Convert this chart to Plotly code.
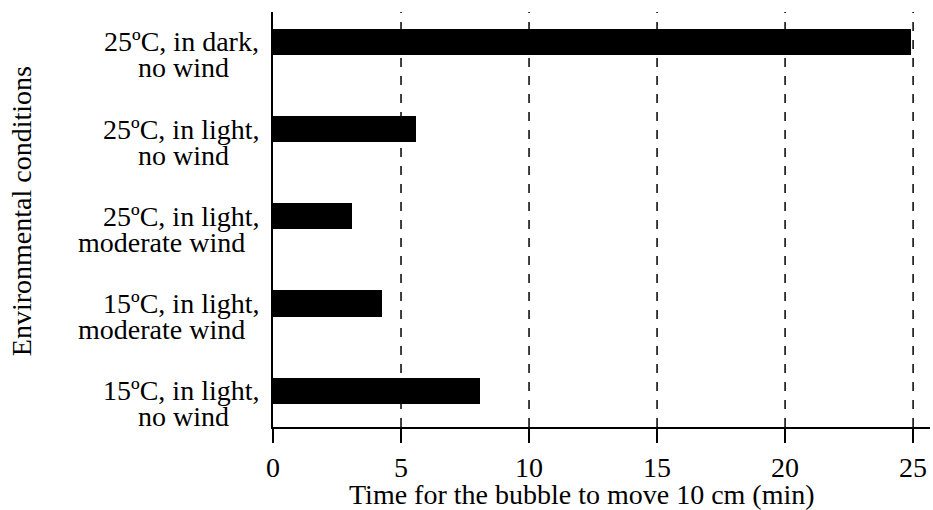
import plotly.graph_objects as go

line1 = [
    "15ºC, in light,",
    "15ºC, in light,",
    "25ºC, in light,",
    "25ºC, in light,",
    "25ºC, in dark,",
]
line2 = ["no wind", "moderate wind", "moderate wind", "no wind", "no wind"]
times = [8.1, 4.25, 3.1, 5.6, 24.9]
x_ticks = [0, 5, 10, 15, 20, 25]
x_title = "Time for the bubble to move 10 cm (min)"
y_title = "Environmental conditions"

FONT = "Liberation Serif, Times New Roman, serif"
FS = 28

fig = go.Figure()
fig.add_trace(go.Bar(
    x=times, y=list(range(len(times))), orientation="h",
    width=0.30, marker=dict(color="black", line=dict(width=0)),
    showlegend=False, hoverinfo="skip",
))

for t in x_ticks[1:]:
    fig.add_shape(type="line", xref="x", yref="paper", x0=t, x1=t, y0=0, y1=1,
                  line=dict(color="black", width=1.5, dash="dash"), layer="below")

for i in range(len(times)):
    fig.add_annotation(text=line1[i], xref="paper", x=0, yref="y", y=i,
                       xanchor="right", yanchor="middle", xshift=-12, yshift=0,
                       showarrow=False, font=dict(family=FONT, size=FS, color="black"))
    shift2 = -112 if line2[i].startswith("moderate") else -90
    fig.add_annotation(text=line2[i], xref="paper", x=0, yref="y", y=i,
                       xanchor="center", yanchor="middle", xshift=shift2, yshift=-26,
                       showarrow=False, font=dict(family=FONT, size=FS, color="black"))

fig.add_annotation(text=y_title, xref="paper", x=0, yref="paper", y=0.52,
                   xanchor="center", yanchor="middle", xshift=-252,
                   textangle=-90, showarrow=False,
                   font=dict(family=FONT, size=FS, color="black"))

fig.add_annotation(text=x_title, xref="paper", x=0.47, yref="paper", y=0,
                   xanchor="center", yanchor="middle", yshift=-67,
                   showarrow=False, font=dict(family=FONT, size=FS, color="black"))

fig.update_layout(
    width=933, height=510,
    margin=dict(l=273, r=3, t=12, b=83),
    paper_bgcolor="white", plot_bgcolor="white",
    font=dict(family=FONT, size=FS, color="black"),
    bargap=0,
    xaxis=dict(
        range=[0, 25.66], tickvals=x_ticks, ticktext=[str(v) for v in x_ticks],
        ticks="outside", ticklen=14, tickwidth=1.5, tickcolor="black",
        showgrid=False, zeroline=False,
        showline=True, linecolor="black", linewidth=2,
        tickfont=dict(family=FONT, size=FS),
    ),
    yaxis=dict(
        range=[-0.416, 4.344], showticklabels=False, ticks="",
        showgrid=False, zeroline=False,
        showline=True, linecolor="black", linewidth=2,
    ),
)

fig.write_html("out.html", config={"displayModeBar": False},
               post_script="document.body.style.margin='0';")
